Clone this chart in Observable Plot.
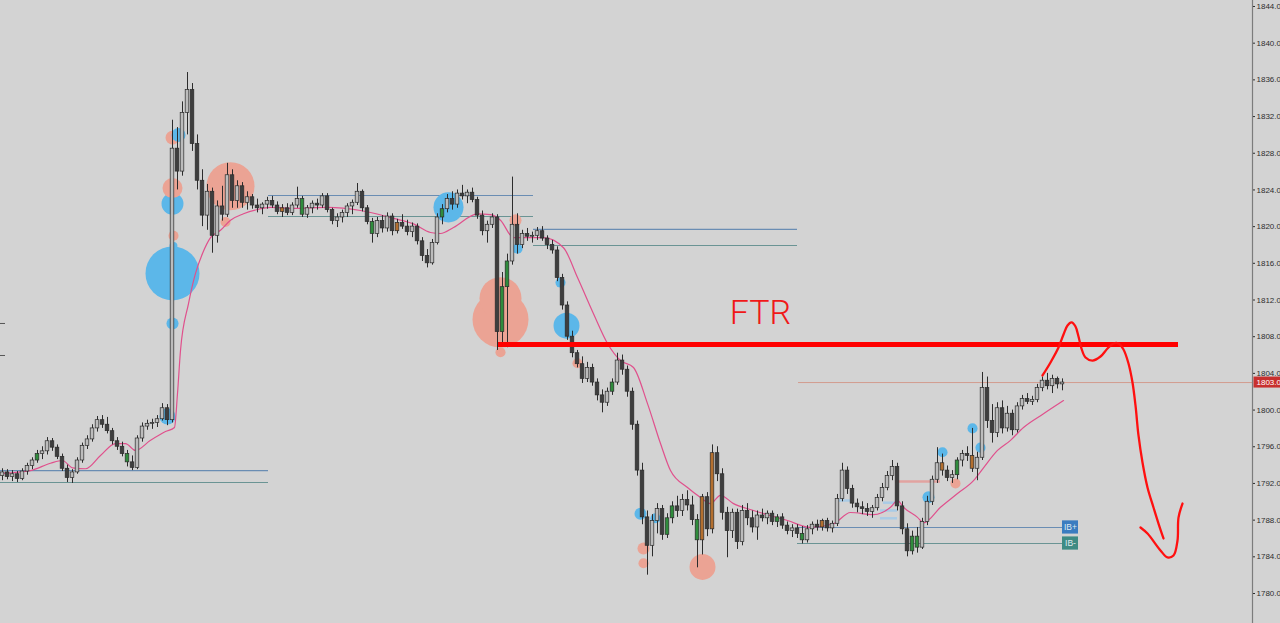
<!DOCTYPE html>
<html><head><meta charset="utf-8">
<script src="https://cdn.jsdelivr.net/npm/d3@7"></script>
<script src="https://cdn.jsdelivr.net/npm/@observablehq/plot@0.6"></script>
<style>
html,body{margin:0;padding:0;background:#d3d3d3;overflow:hidden;}
#chart svg{display:block;}
</style></head><body><div id="chart"></div>
<script>
// ---- candles (bar index 0..212) ----
const opens = [
1792.8,1793.2,1792.7,1793.0,1792.5,1793.3,1793.9,1794.5,1795.2,1795.5,
1796.6,1795.9,1794.9,1793.6,1792.6,1793.2,1794.5,1796.1,1796.8,1798.0,
1798.9,1798.4,1797.7,1796.6,1796.0,1795.2,1794.3,1793.7,1796.9,1798.2,
1798.5,1798.6,1799.0,1800.2,1798.9,1828.5,1826.0,1832.4,1834.9,1829.0,
1825.0,1821.2,1823.8,1819.0,1822.2,1821.3,1825.6,1822.8,1824.4,1822.6,
1823.2,1822.3,1822.0,1822.4,1822.8,1822.3,1821.6,1822.0,1821.5,1822.3,
1823.0,1821.3,1822.0,1822.5,1822.3,1823.3,1821.8,1820.6,1821.0,1821.5,
1822.2,1822.6,1823.8,1822.0,1820.5,1819.2,1820.6,1819.8,1821.1,1819.5,
1820.4,1820.0,1819.4,1820.0,1818.4,1816.8,1816.0,1818.2,1821.0,1821.9,
1823.0,1822.4,1823.6,1823.3,1823.7,1822.9,1821.2,1819.5,1820.2,1821.0,
1808.5,1813.4,1816.2,1820.2,1818.0,1819.2,1818.9,1819.0,1819.5,1818.7,
1818.0,1817.4,1814.4,1811.4,1808.0,1806.2,1805.0,1803.4,1804.6,1803.0,
1801.6,1800.8,1802.0,1803.0,1805.4,1804.4,1802.0,1798.4,1793.4,1788.3,
1785.2,1787.9,1789.2,1786.4,1788.2,1789.5,1789.0,1790.2,1789.6,1788.0,
1785.8,1790.5,1787.0,1795.3,1793.0,1788.8,1786.8,1788.8,1785.6,1789.0,
1788.2,1787.2,1788.5,1788.2,1788.7,1787.8,1788.3,1787.4,1786.8,1787.1,
1786.5,1785.8,1787.0,1787.5,1787.2,1787.9,1787.1,1787.6,1790.3,1793.4,
1791.4,1789.8,1789.4,1789.2,1788.9,1789.3,1790.4,1791.5,1792.8,1793.8,
1789.5,1787.0,1784.6,1786.2,1785.0,1787.8,1790.0,1792.4,1794.2,1793.4,
1792.6,1792.9,1794.5,1795.2,1795.0,1793.6,1794.8,1802.4,1798.8,1797.5,
1800.2,1798.0,1799.6,1797.8,1800.4,1801.2,1800.9,1801.1,1802.4,1803.2,
1802.6,1803.4,1802.8];
const highs = [
1793.6,1793.5,1793.4,1793.3,1793.6,1794.2,1794.8,1795.6,1796.0,1797.0,
1796.9,1796.2,1795.2,1794.0,1793.5,1794.8,1796.4,1797.2,1798.4,1799.3,
1799.4,1799.2,1798.0,1797.0,1796.5,1795.6,1795.0,1797.2,1798.6,1798.9,
1799.0,1799.4,1800.7,1800.6,1831.6,1830.8,1833.6,1836.8,1835.6,1830.0,
1826.2,1824.6,1824.2,1822.8,1824.4,1826.9,1826.2,1825.0,1824.8,1823.8,
1823.5,1823.0,1822.6,1823.2,1823.3,1822.7,1822.4,1822.5,1822.6,1824.3,
1823.3,1822.3,1822.8,1823.0,1823.6,1823.6,1822.0,1821.4,1821.8,1822.5,
1822.9,1824.7,1824.0,1822.3,1820.9,1821.0,1821.2,1821.5,1821.4,1820.8,
1821.3,1820.7,1820.4,1820.3,1818.8,1817.5,1818.6,1821.4,1822.4,1823.5,
1823.8,1824.0,1824.5,1824.0,1824.2,1823.2,1821.7,1820.6,1821.4,1821.3,
1815.0,1817.0,1825.4,1821.4,1819.6,1819.8,1819.4,1819.9,1820.0,1819.0,
1818.5,1817.8,1814.8,1811.8,1808.6,1806.5,1805.8,1805.2,1805.0,1803.4,
1802.2,1802.4,1803.4,1806.2,1806.0,1804.8,1802.4,1798.8,1794.2,1789.0,
1788.6,1789.8,1789.6,1788.7,1790.0,1790.6,1790.8,1791.2,1790.6,1788.6,
1790.8,1791.0,1796.2,1796.0,1793.6,1789.4,1789.2,1789.2,1789.6,1789.8,
1789.0,1789.0,1789.2,1789.0,1789.0,1788.6,1788.7,1787.8,1787.5,1787.5,
1787.3,1787.4,1787.8,1788.0,1788.1,1788.2,1787.9,1790.8,1794.2,1793.8,
1791.8,1790.3,1790.0,1789.8,1789.6,1790.8,1792.0,1793.3,1794.5,1794.2,
1790.0,1787.6,1786.8,1787.2,1788.2,1790.6,1792.8,1795.9,1795.2,1793.9,
1793.4,1794.8,1795.6,1796.0,1798.0,1795.4,1804.1,1803.6,1800.6,1800.8,
1801.0,1800.4,1800.0,1800.8,1801.6,1801.8,1801.5,1802.8,1803.6,1804.0,
1803.8,1803.6,1803.4];
const lows = [
1792.3,1792.4,1792.2,1792.1,1792.3,1792.9,1793.5,1794.2,1794.6,1795.1,
1795.5,1794.6,1793.3,1792.1,1792.0,1793.0,1794.2,1795.7,1796.5,1797.6,
1798.0,1797.4,1796.2,1795.6,1794.9,1793.8,1793.4,1793.5,1796.5,1797.8,
1797.9,1798.1,1798.8,1798.3,1798.6,1824.0,1825.5,1830.0,1828.2,1824.0,
1820.0,1819.6,1817.1,1818.2,1820.6,1821.0,1822.0,1822.0,1822.0,1821.8,
1821.9,1821.5,1821.3,1821.9,1822.0,1821.3,1821.0,1821.2,1821.2,1822.0,
1821.0,1820.9,1821.4,1821.8,1822.0,1821.5,1820.2,1819.9,1820.4,1821.0,
1821.3,1822.3,1821.6,1820.2,1818.2,1818.8,1819.3,1819.4,1819.0,1819.2,
1819.7,1819.0,1818.8,1818.0,1816.2,1815.5,1815.8,1818.0,1820.2,1821.5,
1821.8,1822.0,1822.9,1822.5,1822.6,1820.8,1819.0,1818.2,1819.8,1806.5,
1807.3,1806.8,1815.8,1817.0,1817.6,1818.4,1818.2,1818.5,1818.4,1817.5,
1817.0,1814.0,1810.9,1807.6,1805.7,1804.6,1802.9,1803.0,1802.6,1801.0,
1799.7,1800.4,1801.6,1802.7,1803.8,1801.4,1797.8,1792.8,1787.5,1782.0,
1784.0,1786.5,1785.8,1786.0,1787.6,1788.3,1788.4,1789.0,1787.4,1782.8,
1784.2,1786.2,1786.5,1792.2,1788.0,1783.9,1786.0,1784.8,1785.2,1787.4,
1786.6,1785.8,1787.8,1787.5,1787.4,1787.2,1787.0,1786.4,1786.1,1786.0,
1785.4,1785.5,1786.4,1786.8,1786.8,1786.7,1786.6,1787.3,1790.0,1790.8,
1789.3,1788.8,1788.6,1788.4,1788.2,1789.0,1790.0,1791.2,1792.3,1789.0,
1786.4,1784.0,1784.2,1784.4,1784.8,1787.4,1789.6,1792.0,1792.8,1792.2,
1792.0,1792.4,1793.8,1794.4,1793.2,1792.3,1794.5,1798.0,1796.4,1797.0,
1797.4,1797.6,1797.2,1797.5,1800.0,1800.6,1800.5,1800.8,1802.0,1802.2,
1801.8,1802.3,1802.1];
const closes = [
1793.2,1792.7,1793.0,1792.5,1793.3,1793.9,1794.5,1795.2,1795.5,1796.6,
1795.9,1794.9,1793.6,1792.6,1793.2,1794.5,1796.1,1796.8,1798.0,1798.9,
1798.4,1797.7,1796.6,1796.0,1795.2,1794.3,1793.7,1796.9,1798.2,1798.5,
1798.6,1799.0,1800.2,1798.9,1828.5,1826.0,1832.4,1834.9,1829.0,1825.0,
1821.2,1823.8,1819.0,1822.2,1821.3,1825.6,1822.8,1824.4,1822.6,1823.2,
1822.3,1822.0,1822.4,1822.8,1822.3,1821.6,1822.0,1821.5,1822.3,1823.0,
1821.3,1822.0,1822.5,1822.3,1823.3,1821.8,1820.6,1821.0,1821.5,1822.2,
1822.6,1823.8,1822.0,1820.5,1819.2,1820.6,1819.8,1821.1,1819.5,1820.4,
1820.0,1819.4,1820.0,1818.4,1816.8,1816.0,1818.2,1821.0,1821.9,1823.0,
1822.4,1823.6,1823.3,1823.7,1822.9,1821.2,1819.5,1820.2,1821.0,1808.5,
1813.4,1816.2,1820.2,1818.0,1819.2,1818.9,1819.0,1819.5,1818.7,1818.0,
1817.4,1814.4,1811.4,1808.0,1806.2,1805.0,1803.4,1804.6,1803.0,1801.6,
1800.8,1802.0,1803.0,1805.4,1804.4,1802.0,1798.4,1793.4,1788.3,1785.2,
1787.9,1789.2,1786.4,1788.2,1789.5,1789.0,1790.2,1789.6,1788.0,1785.8,
1790.5,1787.0,1795.3,1793.0,1788.8,1786.8,1788.8,1785.6,1789.0,1788.2,
1787.2,1788.5,1788.2,1788.7,1787.8,1788.3,1787.4,1786.8,1787.1,1786.5,
1785.8,1787.0,1787.5,1787.2,1787.9,1787.1,1787.6,1790.3,1793.4,1791.4,
1789.8,1789.4,1789.2,1788.9,1789.3,1790.4,1791.5,1792.8,1793.8,1789.5,
1787.0,1784.6,1786.2,1785.0,1787.8,1790.0,1792.4,1794.2,1793.4,1792.6,
1792.9,1794.5,1795.2,1795.0,1793.6,1794.8,1802.4,1798.8,1797.5,1800.2,
1798.0,1799.6,1797.8,1800.4,1801.2,1800.9,1801.1,1802.4,1803.2,1802.6,
1803.4,1802.8,1803.0];
const greenIdx = [7,25,60,74,88,100,101,122,133,134,139,155,160,182,183,191];
const orangeIdx = [56,79,140,142,164,188,194];

// ---- moving average ----
const maIdx = [0,5.6,9.6,12,14,16.6,19.6,22.6,24.6,26.6,29.6,32.6,34.4,35,35.6,37.2,38.6,40,41.6,43.6,45.6,48.2,51,53.6,58.2,65,71.6,78.2,82.2,85.6,87.6,90.2,95,97.6,99.6,102.2,105,108.2,112.2,115,118.2,121,123.6,126.2,129,131.6,133.6,137,139.6,141.6,143.6,146.2,150.2,157,161.6,166.2,169.6,174.2,177.6,179,180.2,183,184.2,187.6,191,194.2,196.2,199,201.6,204.2,208.2,212.2];
const maVal = [1793.1,1793.4,1794.2,1794.5,1793.7,1793.6,1795.05,1796.35,1796.35,1795.6,1796.7,1797.66,1798.1,1801.8,1806.5,1811.6,1814.9,1817.07,1818.8,1819.6,1820.7,1821.4,1821.87,1822.1,1822.0,1822.1,1821.76,1820.9,1820.3,1819.36,1819.25,1819.9,1821.4,1821.3,1820.7,1818.8,1818.8,1818.8,1817.7,1814.45,1810.5,1807.26,1805.4,1804.64,1800.7,1796.35,1793.4,1791.55,1790.47,1789.8,1790.7,1789.8,1789.05,1787.96,1787.2,1787.6,1788.83,1788.6,1789.4,1790.14,1789.4,1788.3,1787.7,1789.4,1790.9,1792.3,1793.7,1795.6,1796.7,1798.1,1799.6,1801.04];

// ---- volume bubbles ----
const bubbleIdx = [34,34,34.2,45.6,44.6,99.6,99.6,99.6,102.6,115,128.2,128.2,140,190.6,
                   33,34,34,34.2,34,35.2,89.2,103,111.6,112.8,127.6,130.6,185.2,188,194,195.6];
const bubblePrice = [1829.7,1824.2,1819.0,1824.4,1820.5,1812.2,1809.87,1806.3,1820.7,1805.1,1784.9,1783.3,1782.9,1792.0,
                     1799.3,1809.44,1814.9,1817.9,1822.5,1830.0,1822.1,1817.6,1813.9,1809.2,1788.7,1788.2,1790.5,1795.4,1798.0,1795.9];
const bubbleVol = [50,102,26,588,26,450,800,26,37,26,37,26,172,26,
                   65,37,744,16,123,50,230,26,26,172,37,26,37,26,26,26];
const bubbleSide = ["sell","sell","sell","sell","sell","sell","sell","sell","sell","sell","sell","sell","sell","sell",
                    "buy","buy","buy","buy","buy","buy","buy","buy","buy","buy","buy","buy","buy","buy","buy","buy"];

// ---- levels ----
const levelPrice = [1793.4,1792.1,1823.4,1821.1,1819.7,1817.95,1787.2,1785.45];
const levelFrom = [-0.4,-0.4,53.2,53.2,106.2,106.2,159,159];
const levelTo = [53.2,53.2,106.2,106.2,159,159,212,212];
const levelKind = ["high","low","high","low","high","low","high","low"];
const ibText = ["IB+","IB-"];
const minorPrice = [1790.14,1789.9,1789.05,1788.2,1792.2];
const minorFrom = [167,176.2,175.6,175.6,178.6];
const minorTo = [169.6,179,179,179,187.6];
const minorKind = ["ib","ib","ib","ib","vwap"];
const priceLineFrom = 159.2;
const edgeTickPrice = [1809.44,1805.95];

// ---- annotation ----
const ftrPrice = 1807.15, ftrFrom = 99.2, ftrTo = 235.2;
const annIdx = [151.6], annPrice = [1810.6], annText = ["FTR"];
const handIdx = [208,209.6,211.2,212.2,213,213.8,214.6,215.2,215.8,216.6,218,219.6,221,222.2,223.2,224.2,225.2,226,226.6,227.2,228,229,230.2,231.2,232.2,
                 227.6,229,231.6,233,234.2,235,235.2,236];
const handPrice = [1803.77,1805.19,1806.82,1808.24,1809.22,1809.55,1809.11,1808.02,1806.71,1805.73,1805.4,1805.84,1806.71,1807.26,1807.26,1806.6,1805.08,1803.0,1800.5,1797.23,1794.28,1791.56,1789.38,1787.63,1786.0,
                   1787.2,1786.54,1784.69,1783.93,1784.14,1785.78,1788.28,1789.81];
const handStroke = [0,0,0,0,0,0,0,0,0,0,0,0,0,0,0,0,0,0,0,0,0,0,0,0,0, 1,1,1,1,1,1,1,1];

// ---- axis ----
const yTicks = [1780,1784,1788,1792,1796,1800,1804,1808,1812,1816,1820,1824,1828,1832,1836,1840,1844];
const xDomain = [-0.4, 250];
const yDomain = [1776.73, 1844.654];

// ---- build tables ----
const candles = opens.map((o, i) => ({
  i, o, h: highs[i], l: lows[i], c: closes[i],
  kind: greenIdx.includes(i) ? "green" : orangeIdx.includes(i) ? "orange" : (closes[i] >= o ? "up" : "down")
}));
const bodyColor = {green: "#2f8c3c", orange: "#b36f2f", up: "#bcbcbc", down: "#3e3e3e"};
const ma = maIdx.map((x, k) => ({x, y: maVal[k]}));
const bubbles = bubbleIdx.map((x, k) => ({x, y: bubblePrice[k], v: bubbleVol[k], side: bubbleSide[k]}));
const levels = levelPrice.map((p, k) => ({p, from: levelFrom[k], to: levelTo[k], kind: levelKind[k]}));
const minors = minorPrice.map((p, k) => ({p, from: minorFrom[k], to: minorTo[k], kind: minorKind[k]}));
const ib = levels.slice(-2).map((d, k) => ({...d, label: ibText[k]}));
const hand = handIdx.map((x, k) => ({x, y: handPrice[k], g: handStroke[k]}));
const ann = annIdx.map((x, k) => ({x, y: annPrice[k], t: annText[k]}));
const lastPrice = closes[closes.length - 1];
const xMax = xDomain[1];

const chart = Plot.plot({
  width: 1280, height: 623,
  marginLeft: 0, marginRight: 28, marginTop: 0, marginBottom: 0,
  style: {background: "#d3d3d3", overflow: "hidden", fontFamily: "Liberation Sans, sans-serif"},
  x: {domain: xDomain, axis: null},
  y: {domain: yDomain, axis: null},
  r: {type: "sqrt", domain: [0, 800], range: [0, 28]},
  color: {type: "identity"},
  marks: [
    Plot.ruleY(levels, {y: "p", x1: "from", x2: "to", stroke: d => d.kind === "high" ? "#6a8db3" : "#6a9494", strokeWidth: 1.1}),
    Plot.ruleY(minors, {y: "p", x1: "from", x2: "to", stroke: d => d.kind === "ib" ? "#a9cbe6" : "#e2a3a0", strokeWidth: 2.5}),
    Plot.ruleY([lastPrice], {y: d => d, x1: priceLineFrom, x2: xMax, stroke: "#d29c8e", strokeWidth: 1}),
    Plot.ruleY(edgeTickPrice, {y: d => d, x1: xDomain[0], x2: xDomain[0] + 1, stroke: "#555"}),
    Plot.dot(bubbles, {x: "x", y: "y", r: "v", fill: d => d.side === "buy" ? "#5cb7e9" : "#eba394", stroke: null}),
    Plot.line(ma, {x: "x", y: "y", stroke: "#e0508c", strokeWidth: 1.2, curve: "monotone-x"}),
    Plot.ruleX(candles, {x: "i", y1: "l", y2: "h", stroke: "#2c2c2c", strokeWidth: 1}),
    Plot.rect(candles, {x1: d => d.i - 0.36, x2: d => d.i + 0.36, y1: "o", y2: "c",
      fill: d => bodyColor[d.kind], stroke: "#2a2a2a", strokeWidth: 0.7}),
    Plot.ruleY([ftrPrice], {y: d => d, x1: ftrFrom, x2: ftrTo, stroke: "#ff0000", strokeWidth: 5}),
    Plot.line(hand, {x: "x", y: "y", z: "g", stroke: "#ff1010", strokeWidth: 2.3, curve: "catmull-rom", strokeLinecap: "round", strokeLinejoin: "round"}),
    Plot.text(ann, {x: "x", y: "y", text: "t", fill: "#f01818", fontSize: 34, fontWeight: 300, fontFamily: "Roboto, Liberation Sans, sans-serif", textAnchor: "middle"}),
    Plot.rect(ib, {x1: "to", x2: d => d.to + 3.2, y1: d => d.p - 0.72, y2: d => d.p + 0.72,
      fill: d => d.kind === "high" ? "#3b7cc0" : "#3f8b84"}),
    Plot.text(ib, {x: d => d.to + 1.6, y: "p", text: "label", fill: "#dfe9ef", fontSize: 8.5}),
    Plot.ruleX([xMax], {stroke: "#7c7c7c", strokeWidth: 1.2}),
    Plot.axisY(yTicks, {anchor: "right", tickSize: 2, tickPadding: 2, tickFormat: d => d.toFixed(1), fontSize: 8, color: "#2e2e2e"}),
    Plot.rect([lastPrice], {x1: xMax + 0.3, x2: xMax + 6.2, y1: d => d - 0.6, y2: d => d + 0.6, fill: "#c8302e"}),
    Plot.text([lastPrice], {x: xMax + 0.8, y: d => d, text: d => d.toFixed(1), fill: "#ffffff", fontSize: 8, textAnchor: "start"})
  ]
});
document.getElementById("chart").appendChild(chart);
</script>
</body></html>
